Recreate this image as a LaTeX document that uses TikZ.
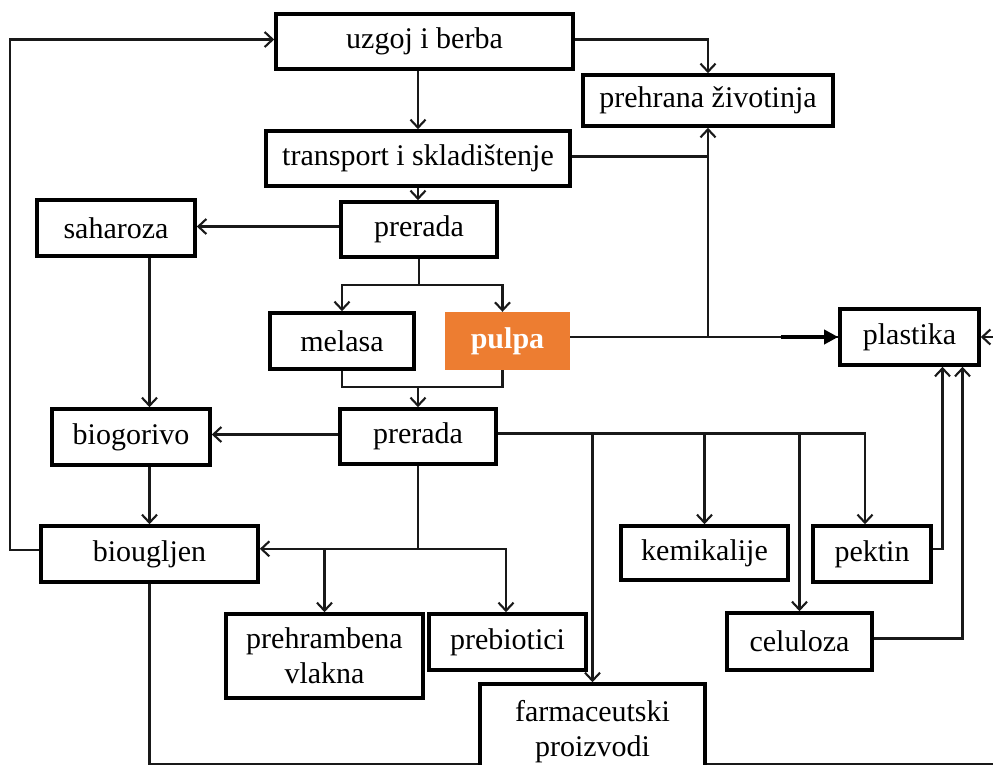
\documentclass[tikz,border=0pt]{standalone}
\usepackage{fontspec}
\setmainfont{Liberation Serif}
\usetikzlibrary{arrows.meta,calc,backgrounds}
\definecolor{pulpaorange}{HTML}{ED7D31}
\begin{document}
\begin{tikzpicture}[x=1pt,y=-1pt,
  box/.style={draw, line width=3.6pt, fill=white, inner sep=0pt, align=center,
    font=\fontsize{30}{35}\selectfont},
  ln/.style={line width=2.1pt, draw=black!90},
  arr/.style={ln, -{Straight Barb[length=8pt,width=15pt,line width=2.1pt]}},
  bigarr/.style={line width=3.5pt, -{Triangle[length=14pt,width=14pt]}},
]
\useasboundingbox (0,0) rectangle (993,764);
\clip (0,0) rectangle (993,764);

\node[box, minimum width=297pt, minimum height=55pt] (uzgoj) at (424.5,41.5) {uzgoj i berba};
\node[box, minimum width=250pt, minimum height=51pt] (preh) at (708,100.5) {prehrana životinja};
\node[box, minimum width=304pt, minimum height=55pt] (trans) at (418,158.5) {transport i skladištenje};
\node[box, minimum width=158pt, minimum height=56pt] (sah) at (116,228) {saharoza};
\node[box, minimum width=156pt, minimum height=55pt] (prer1) at (419,229.5) {prerada};
\node[box, minimum width=144pt, minimum height=56pt] (mel) at (342,341) {melasa};
\node[fill=pulpaorange, inner sep=0pt, minimum width=125pt, minimum height=58pt, text=white,
  font=\fontsize{30}{35}\selectfont\bfseries] (pulpa) at (507.5,341) {pulpa};
\node[box, minimum width=139pt, minimum height=56pt] (plast) at (909.5,337) {plastika};
\node[box, minimum width=158pt, minimum height=56pt] (biog) at (131,437) {biogorivo};
\node[box, minimum width=156pt, minimum height=55pt] (prer2) at (418,436.5) {prerada};
\node[box, minimum width=217pt, minimum height=56pt] (biou) at (149.5,554) {biougljen};
\node[box, minimum width=167pt, minimum height=54pt] (kem) at (704.5,553) {kemikalije};
\node[box, minimum width=118pt, minimum height=56pt] (pek) at (872,554) {pektin};
\node[box, minimum width=197pt, minimum height=84pt] (vlak) at (324.5,656) {prehrambena\\vlakna};
\node[box, minimum width=157pt, minimum height=56pt] (preb) at (507.5,642) {prebiotici};
\node[box, minimum width=145pt, minimum height=57pt] (cel) at (799.5,641.5) {celuloza};
\node[box, minimum width=225pt, minimum height=96pt] (farm) at (592.5,732) {farmaceutski\\proizvodi};

\begin{pgfonlayer}{background}
  % feedback loop to cultivation
  \draw[arr] ([yshift=4pt]biou.west) -- ++(-29,0) |- ([yshift=2pt]uzgoj.west);
  % main chain
  \draw[arr] (trans.north |- uzgoj.south) -- (trans.north);
  \draw[arr] ([yshift=2pt]uzgoj.east) -| (preh.north);
  \draw[ln] ([yshift=2pt]trans.east) -- ([yshift=2pt]trans.east -| preh.south);
  \draw[arr] (trans.south) -- (trans.south |- prer1.north);
  \draw[arr] ([yshift=3pt]prer1.west) -- ([yshift=3pt]prer1.west -| sah.east);
  % split to melasa / pulpa
  \draw[ln] (prer1.south) -- ++(0,26) coordinate (j1);
  \draw[arr] (j1) -| (mel.north);
  \draw[arr] (j1) -| ([xshift=-5pt]pulpa.north);
  % merge to second processing
  \draw[ln] (mel.south) -- ++(0,16) coordinate (j2) -| ([xshift=-5pt]pulpa.south);
  \draw[arr] (j2 -| prer2.north) -- (prer2.north);
  % pulpa outputs
  \draw[ln] (pulpa.east |- plast.west) -- (plast.west);
  \draw[bigarr] ([xshift=-57pt]plast.west) -- (plast.west);
  \draw[arr] (preh.south |- plast.west) -- (preh.south);
  % sugar line
  \draw[arr] (sah.south -| biou.north) -- (biog.north -| biou.north);
  \draw[arr] ([yshift=2pt]prer2.west) -- ([yshift=2pt]prer2.west -| biog.east);
  \draw[arr] (biog.south -| biou.north) -- (biou.north);
  % second processing, lower branch
  \draw[ln] (prer2.south) -- ++(0,83) coordinate (j3);
  \draw[arr] (j3) -- (j3 -| biou.east);
  \draw[arr] (j3 -| vlak.north) -- (vlak.north);
  \draw[arr] (j3) -| ([xshift=-1.5pt]preb.north);
  % second processing, right branch
  \draw[arr] ([yshift=3pt]prer2.east) -| ([xshift=-7pt]pek.north);
  \draw[arr] ([yshift=3pt]prer2.east -| farm.north) -- (farm.north);
  \draw[arr] ([yshift=3pt]prer2.east -| kem.north) -- (kem.north);
  \draw[arr] ([yshift=3pt]prer2.east -| cel.north) -- (cel.north);
  % to plastics
  \draw[arr] ([yshift=5pt]pek.east) -| ([xshift=33pt]plast.south);
  \draw[arr] ([yshift=3pt]cel.east) -| ([xshift=53pt]plast.south);
  \draw[arr] (biou.south) -- ++(0,180) -- ++(870,0) |- (plast.east);
\end{pgfonlayer}
\end{tikzpicture}
\end{document}
